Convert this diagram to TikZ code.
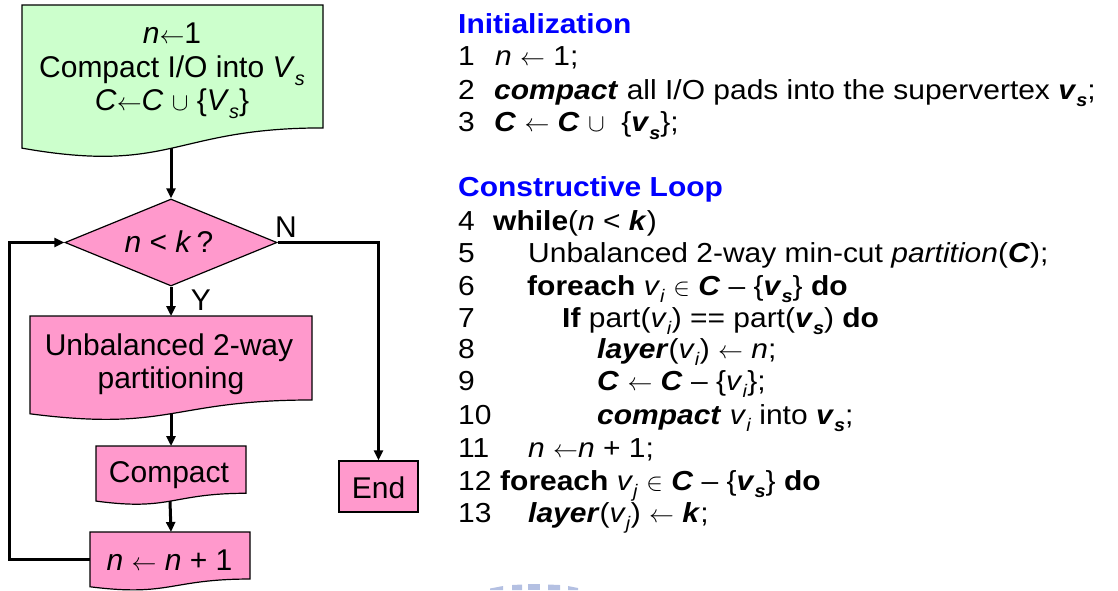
\documentclass[tikz,border=0pt]{standalone}
\usepackage{fontspec}
\usepackage{graphicx}
\setmainfont{Liberation Sans}
\newfontfamily\codefont[FakeStretch=1.09]{Liberation Sans}
\usetikzlibrary{shapes.geometric,arrows.meta,calc,backgrounds}

\definecolor{docgreen}{HTML}{CCFFCC}
\definecolor{docpink}{HTML}{FF99CC}
\definecolor{headblue}{HTML}{0000FF}
\definecolor{crest}{HTML}{B4C0E2}

\newcommand\bfit[1]{\textbf{\textit{#1}}}
\newcommand\lsub[1]{\raisebox{-0.28em}{\scalebox{0.66}{#1}}}
\newcommand\larr{\ensuremath{\leftarrow}}

% document-style outline (wavy bottom) drawn around a named node;
% the node's south anchor sits on the middle of the wave
\newcommand\docoutline[2]{%
  \path[shapeline, fill=#2] (#1.north west) -- (#1.north east)
    -- ($(#1.north east)!0.8596!(#1.south east)$)
    .. controls ($(#1.north)!0.8596!(#1.south)$) and ($(#1.north)!1.1865!(#1.south)$)
    .. ($(#1.north west)!1.001!(#1.south west)$) -- cycle;}

\begin{document}
\begin{tikzpicture}[x=1pt, y=-1pt,
  shapeline/.style={draw=black, line width=1.2pt},
  docbox/.style={inner sep=0pt, outer sep=0pt},
  flow/.style={line width=3pt, -{Triangle[length=10pt,width=9pt]}},
  flowtext/.style={font=\fontsize{30}{33}\selectfont, inner sep=0pt, anchor=base},
  codetext/.style={font=\codefont\fontsize{27.5}{33}\selectfont, anchor=base west, inner sep=0pt},
  heading/.style={font=\codefont\bfseries\fontsize{27.5}{33}\selectfont, anchor=base west, inner sep=0pt, text=headblue}]
\useasboundingbox (0,0) rectangle (1118,590);

% ---------- flow chart ----------
\node[docbox, minimum width=301pt, minimum height=143pt] (init) at (172.5,76.5) {};
\node[flowtext] (initA) at (172,43.3) {\textit{n}\larr1};
\node[flowtext] (initB) at (172,77.3) {Compact I/O into \textit{V}\lsub{\textit{s}}};
\node[flowtext] (initC) at (172,110) {\textit{C}\larr\textit{C} $\cup$ \{\textit{V}\lsub{\textit{s}}\}};

\node[diamond, shapeline, fill=docpink, inner sep=0pt, minimum width=212pt, minimum height=87pt] (test) at (171,242.5) {};
\node[flowtext] (testT) at (169,252.7) {\textit{n} < \textit{k}\,?};
\node[flowtext] (labN) at (286,237) {N};
\node[flowtext] (labY) at (201,310) {Y};

\node[docbox, minimum width=282pt, minimum height=97.7pt] (part) at (171,364.85) {};
\node[flowtext] (partA) at (169,355) {Unbalanced 2-way};
\node[flowtext] (partB) at (171,388) {partitioning};

\node[docbox, minimum width=150pt, minimum height=55pt] (comp) at (171,473.5) {};
\node[flowtext] (compT) at (169,482.7) {Compact};

\node[docbox, minimum width=160pt, minimum height=54.7pt] (incr) at (170,559.35) {};
\node[flowtext] (incrT) at (169.5,570) {\textit{n} \larr\ \textit{n} + 1};

\node[shapeline, fill=docpink, inner sep=0pt, minimum width=79pt, minimum height=51pt] (stop) at (378.5,486.5) {};
\node[flowtext] (stopT) at (378.5,498) {End};

\begin{scope}[on background layer]
  \docoutline{init}{docgreen}
  \docoutline{part}{docpink}
  \docoutline{comp}{docpink}
  \docoutline{incr}{docpink}
\end{scope}

\draw[flow] (init.south -| test.north) -- (test.north);
\draw[flow] (test.south) -- (test.south |- part.north);
\draw[flow] (part.south -| comp.north) -- (comp.north);
\draw[flow] (comp.south -| incr.north) -- (incr.north -| comp.south);
\draw[flow] (test.east) -| (stop.north);
\draw[flow] (incr.west) -- ++(-80.5,0) |- (test.west);

% ---------- algorithm ----------
\node[heading] (h1) at (458,33.3) {Initialization};
\node[codetext] (n1) at (458,65.7) {1};
\node[codetext] (c1) at (495,65.7) {\textit{n} \larr\ 1;};
\node[codetext] (n2) at (458,99) {2};
\node[codetext] (c2) at (494,99) {\bfit{compact} all I/O pads into the supervertex \bfit{v}\lsub{\bfit{s}};};
\node[codetext] (n3) at (458,131.7) {3};
\node[codetext] (c3) at (494,131.7) {\bfit{C} \larr\ \bfit{C} $\cup$ \ \{\bfit{v}\lsub{\bfit{s}}\};};

\node[heading] (h2) at (458,196.7) {Constructive Loop};
\node[codetext] (n4) at (458,230) {4};
\node[codetext] (c4) at (493,230) {\textbf{while}(\textit{n} < \bfit{k})};
\node[codetext] (n5) at (458,262) {5};
\node[codetext] (c5) at (528,262) {Unbalanced 2-way min-cut \textit{partition}(\bfit{C});};
\node[codetext] (n6) at (458,295) {6};
\node[codetext] (c6) at (527,295) {\textbf{foreach} \textit{v}\lsub{\textit{i}} $\in$ \bfit{C} – \{\bfit{v}\lsub{\bfit{s}}\} \textbf{do}};
\node[codetext] (n7) at (458,327) {7};
\node[codetext] (c7) at (562,327) {\textbf{If} part(\textit{v}\lsub{\textit{i}}) == part(\bfit{v}\lsub{\bfit{s}}) \textbf{do}};
\node[codetext] (n8) at (458,358) {8};
\node[codetext] (c8) at (597,358) {\bfit{layer}(\textit{v}\lsub{\textit{i}}) \larr\ \textit{n};};
\node[codetext] (n9) at (458,390) {9};
\node[codetext] (c9) at (597,390) {\bfit{C} \larr\ \bfit{C} – \{\textit{v}\lsub{\textit{i}}\};};
\node[codetext] (n10) at (458,424) {10};
\node[codetext] (c10) at (597,424) {\bfit{compact} \textit{v}\lsub{\textit{i}} into \bfit{v}\lsub{\bfit{s}};};
\node[codetext] (n11) at (458,457) {11};
\node[codetext] (c11) at (528,457) {\textit{n} \larr\textit{n} + 1;};
\node[codetext] (n12) at (458,490) {12};
\node[codetext] (c12) at (500,490) {\textbf{foreach} \textit{v}\lsub{\textit{j}} $\in$ \bfit{C} – \{\bfit{v}\lsub{\bfit{s}}\} \textbf{do}};
\node[codetext] (n13) at (458,522) {13};
\node[codetext] (c13) at (528,522) {\bfit{layer}(\textit{v}\lsub{\textit{j}}) \larr\ \bfit{k};};

% ---------- crest at the lower edge ----------
\fill[crest] (490,590) -- (490,588.5) -- (503,586) -- (503,590) -- cycle;
\fill[crest] (512,590) -- (512,585) -- (522,584.5) -- (522,590) -- cycle;
\fill[crest] (528,590) -- (528,584) -- (540,584) -- (540,590) -- cycle;
\fill[crest] (548,590) -- (548,584.5) -- (560,585) -- (560,590) -- cycle;
\fill[crest] (568,590) -- (568,586) -- (578,588) -- (578,590) -- cycle;
\end{tikzpicture}
\end{document}
